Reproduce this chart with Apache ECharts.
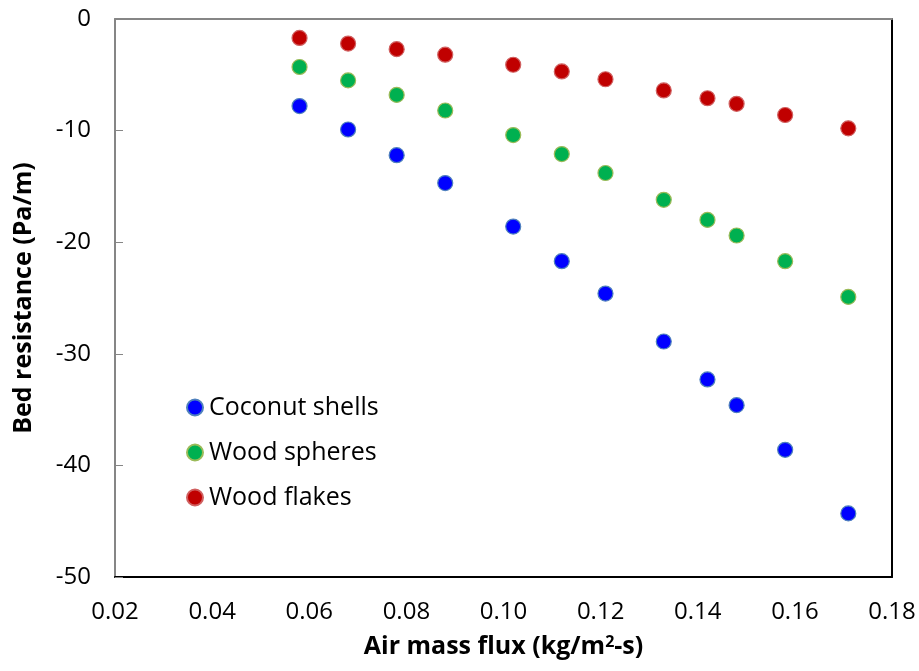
<!DOCTYPE html>
<html><head><meta charset="utf-8">
<script src="https://cdn.jsdelivr.net/npm/echarts@6/dist/echarts.min.js"></script>
<style>html,body{margin:0;padding:0;background:#fff}#c{width:919px;height:671px}</style>
</head><body><div id="c"></div>
<script>
const airFlux = [0.058, 0.068, 0.078, 0.088, 0.102, 0.112, 0.121, 0.133, 0.142, 0.148, 0.158, 0.171];
const coconutShells = [-7.8, -9.9, -12.2, -14.7, -18.6, -21.7, -24.6, -28.9, -32.3, -34.6, -38.6, -44.3];
const woodSpheres = [-4.3, -5.5, -6.8, -8.2, -10.4, -12.1, -13.8, -16.2, -18.0, -19.4, -21.7, -24.9];
const woodFlakes = [-1.7, -2.2, -2.7, -3.2, -4.1, -4.7, -5.4, -6.4, -7.1, -7.6, -8.6, -9.8];
const seriesNames = ['Coconut shells', 'Wood spheres', 'Wood flakes'];
const xTitle = 'Air mass flux (kg/m{sup|2}-s)';
const yTitle = 'Bed resistance (Pa/m)';

const FONT = 'Open Sans';
const chart = echarts.init(document.getElementById('c'), null, {renderer: 'canvas'});
const pair = (ys) => airFlux.map((x, i) => [x, ys[i]]);
const mk = (name, ys, color, border) => ({
  name, type: 'scatter', data: pair(ys), symbol: 'circle', symbolSize: 15,
  itemStyle: {color, borderColor: border, borderWidth: 1.2, opacity: 1},
  xAxisIndex: 0, yAxisIndex: 0
});
chart.setOption({
  animation: false,
  backgroundColor: '#fff',
  textStyle: {fontFamily: FONT},
  grid: {left: 115, top: 19, right: 27, bottom: 94, containLabel: false},
  legend: {
    orient: 'vertical', left: 181, top: 390, itemGap: 20,
    icon: 'circle', itemWidth: 16, itemHeight: 16,
    textStyle: {fontFamily: FONT, fontSize: 25, color: '#000', padding: [0,0,0,1]},
    data: seriesNames
  },
  xAxis: [{
    type: 'value', min: 0.02, max: 0.18, interval: 0.02, position: 'bottom',
    axisLine: {show: true, onZero: false, lineStyle: {color: '#000', width: 2}},
    axisTick: {show: false}, splitLine: {show: false},
    axisLabel: {formatter: v => v.toFixed(2), fontFamily: FONT, fontSize: 24, color: '#000', margin: 23},
    name: xTitle, nameLocation: 'middle', nameGap: 57,
    nameTextStyle: {fontFamily: FONT, fontSize: 25, fontWeight: 'bold', color: '#000',
      rich: {sup: {fontSize: 16, fontWeight: 'bold', verticalAlign: 'top', padding: [0,0,10,0], fontFamily: FONT}}}
  }, {
    type: 'value', min: 0.02, max: 0.18, interval: 0.02, position: 'top',
    axisLine: {show: true, onZero: false, lineStyle: {color: '#868686', width: 2}},
    axisTick: {show: false}, axisLabel: {show: false}, splitLine: {show: false}
  }],
  yAxis: [{
    type: 'value', min: -50, max: 0, interval: 10, position: 'left',
    axisLine: {show: true, onZero: false, lineStyle: {color: '#868686', width: 2}},
    axisTick: {show: true, inside: true, length: 8, lineStyle: {color: '#868686', width: 1}},
    splitLine: {show: false},
    axisLabel: {fontFamily: FONT, fontSize: 24, color: '#000', margin: 24},
    name: yTitle, nameLocation: 'middle', nameGap: 79, nameRotate: 90,
    nameTextStyle: {fontFamily: FONT, fontSize: 25, fontWeight: 'bold', color: '#000'}
  }, {
    type: 'value', min: -50, max: 0, interval: 10, position: 'right',
    axisLine: {show: true, onZero: false, lineStyle: {color: '#000', width: 2}},
    axisTick: {show: false}, axisLabel: {show: false}, splitLine: {show: false}
  }],
  series: [
    mk(seriesNames[0], coconutShells, '#0000FF', '#4F81BD'),
    mk(seriesNames[1], woodSpheres, '#00B050', '#9BBB59'),
    mk(seriesNames[2], woodFlakes, '#C00000', '#D06060')
  ]
});
</script></body></html>
